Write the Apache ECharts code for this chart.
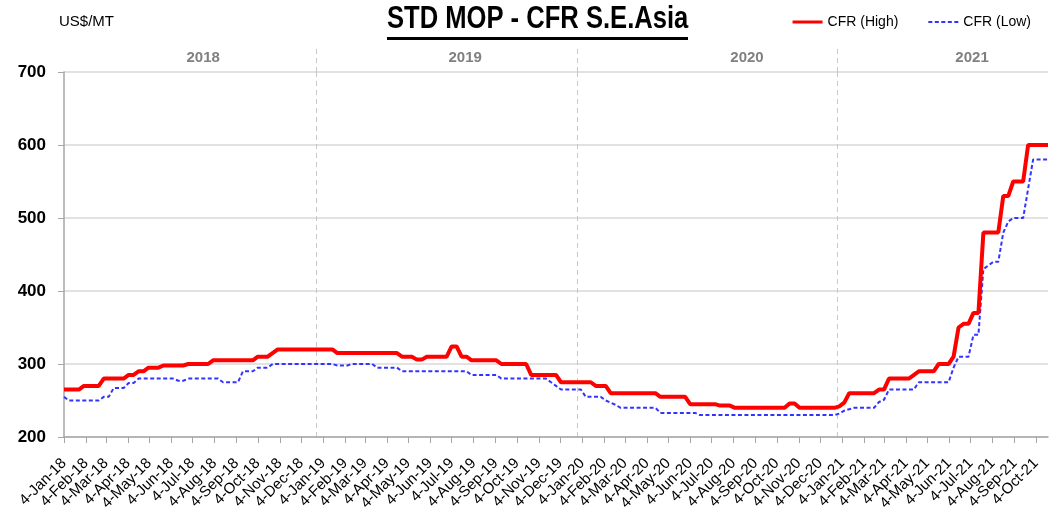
<!DOCTYPE html>
<html>
<head>
<meta charset="utf-8">
<title>STD MOP - CFR S.E.Asia</title>
<script src="https://cdn.jsdelivr.net/npm/echarts@6/dist/echarts.min.js"></script>
<style>
  html, body { margin: 0; padding: 0; background: #fff; }
  #chart { width: 1063px; height: 516px; }
</style>
</head>
<body>
<div id="chart"></div>
<script>
(function () {
  'use strict';

  // weekly corner points (Thursdays), values in US$/MT
  const highDates = [
    '4-Jan-18', '25-Jan-18', '1-Feb-18', '22-Feb-18', '1-Mar-18', '29-Mar-18', '5-Apr-18', '12-Apr-18',
    '19-Apr-18', '26-Apr-18', '3-May-18', '17-May-18', '24-May-18', '21-Jun-18', '28-Jun-18', '26-Jul-18',
    '2-Aug-18', '27-Sep-18', '4-Oct-18', '18-Oct-18', '1-Nov-18', '17-Jan-19', '24-Jan-19', '18-Apr-19',
    '25-Apr-19', '9-May-19', '16-May-19', '23-May-19', '30-May-19', '27-Jun-19', '4-Jul-19', '11-Jul-19',
    '18-Jul-19', '25-Jul-19', '1-Aug-19', '5-Sep-19', '12-Sep-19', '17-Oct-19', '24-Oct-19', '28-Nov-19',
    '5-Dec-19', '16-Jan-20', '23-Jan-20', '6-Feb-20', '13-Feb-20', '16-Apr-20', '23-Apr-20', '28-May-20',
    '4-Jun-20', '9-Jul-20', '16-Jul-20', '30-Jul-20', '6-Aug-20', '15-Oct-20', '22-Oct-20', '29-Oct-20',
    '5-Nov-20', '24-Dec-20', '31-Dec-20', '7-Jan-21', '14-Jan-21', '18-Feb-21', '25-Feb-21', '4-Mar-21',
    '11-Mar-21', '8-Apr-21', '22-Apr-21', '13-May-21', '20-May-21', '3-Jun-21', '10-Jun-21', '17-Jun-21',
    '24-Jun-21', '1-Jul-21', '8-Jul-21', '15-Jul-21', '22-Jul-21', '12-Aug-21', '19-Aug-21', '26-Aug-21',
    '2-Sep-21', '16-Sep-21', '23-Sep-21', '21-Oct-21'
  ];
  const highValues = [
    265, 265, 270, 270, 280, 280, 285, 285,
    290, 290, 295, 295, 298, 298, 300, 300,
    305, 305, 310, 310, 320, 320, 315, 315,
    310, 310, 306, 306, 310, 310, 324, 324,
    310, 310, 305, 305, 300, 300, 285, 285,
    275, 275, 270, 270, 260, 260, 255, 255,
    245, 245, 243, 243, 240, 240, 246, 246,
    240, 240, 242, 247, 260, 260, 265, 265,
    280, 280, 290, 290, 300, 300, 310, 350,
    355, 355, 370, 370, 480, 480, 530, 530,
    550, 550, 600, 600
  ];

  const lowDates = [
    '4-Jan-18', '11-Jan-18', '22-Feb-18', '1-Mar-18', '8-Mar-18', '15-Mar-18', '29-Mar-18', '5-Apr-18',
    '12-Apr-18', '19-Apr-18', '7-Jun-18', '14-Jun-18', '21-Jun-18', '28-Jun-18', '9-Aug-18', '16-Aug-18',
    '6-Sep-18', '13-Sep-18', '27-Sep-18', '4-Oct-18', '18-Oct-18', '25-Oct-18', '17-Jan-19', '24-Jan-19',
    '7-Feb-19', '14-Feb-19', '14-Mar-19', '21-Mar-19', '18-Apr-19', '25-Apr-19', '25-Jul-19', '1-Aug-19',
    '5-Sep-19', '12-Sep-19', '14-Nov-19', '21-Nov-19', '28-Nov-19', '5-Dec-19', '2-Jan-20', '9-Jan-20',
    '30-Jan-20', '6-Feb-20', '13-Feb-20', '20-Feb-20', '27-Feb-20', '16-Apr-20', '23-Apr-20', '11-Jun-20',
    '18-Jun-20', '24-Dec-20', '31-Dec-20', '7-Jan-21', '14-Jan-21', '21-Jan-21', '18-Feb-21', '25-Feb-21',
    '4-Mar-21', '11-Mar-21', '15-Apr-21', '22-Apr-21', '3-Jun-21', '10-Jun-21', '17-Jun-21', '1-Jul-21',
    '8-Jul-21', '15-Jul-21', '22-Jul-21', '29-Jul-21', '5-Aug-21', '12-Aug-21', '19-Aug-21', '26-Aug-21',
    '2-Sep-21', '16-Sep-21', '23-Sep-21', '30-Sep-21', '21-Oct-21'
  ];
  const lowValues = [
    255, 250, 250, 255, 255, 267, 267, 274,
    274, 280, 280, 277, 277, 280, 280, 275,
    275, 290, 290, 295, 295, 300, 300, 298,
    298, 300, 300, 295, 295, 290, 290, 285,
    285, 280, 280, 275, 270, 265, 265, 255,
    255, 250, 247, 244, 240, 240, 233, 233,
    230, 230, 232, 236, 238, 240, 240, 248,
    251, 265, 265, 275, 275, 295, 310, 310,
    340, 340, 430, 435, 440, 440, 480, 495,
    500, 500, 540, 580, 580
  ];

  const yearLabels = ['2018', '2019', '2020', '2021'];
  const yearLabelDates = ['19-Jul-18', '23-Jul-19', '23-Aug-20', '6-Jul-21'];
  const yearSeparators = ['26-Dec-18', '28-Dec-19', '28-Dec-20'];

  const MONTHS = ['Jan', 'Feb', 'Mar', 'Apr', 'May', 'Jun', 'Jul', 'Aug', 'Sep', 'Oct', 'Nov', 'Dec'];
  function fmt(t) {
    const d = new Date(t);
    return d.getUTCDate() + '-' + MONTHS[d.getUTCMonth()] + '-' + String(d.getUTCFullYear()).slice(2);
  }
  // one category per day, like a spreadsheet date axis
  const days = [];
  for (let t = Date.UTC(2018, 0, 4); t <= Date.UTC(2021, 9, 21); t += 86400000) days.push(fmt(t));

  function pairs(dates, values) {
    return dates.map(function (d, i) { return [d, values[i]]; });
  }
  const isMonthTick = function (i, v) { return v.indexOf('4-') === 0; };
  const isSeparator = function (i, v) { return yearSeparators.indexOf(v) >= 0; };
  const isYearLabel = function (i, v) { return yearLabelDates.indexOf(v) >= 0; };

  const FONT = '"Liberation Sans", Arial, sans-serif';
  // legend swatches: solid bar and a dashed bar (tiny corner dots keep the box 30x3)
  const ICON_SOLID = 'rect';
  const ICON_DASHED = 'path://M0,0h0.05v0.05h-0.05z M0,0.6h4v1.8h-4z M6.5,0.6h4v1.8h-4z M13,0.6h4v1.8h-4z M19.5,0.6h4v1.8h-4z M26,0.6h4v1.8h-4z M29.95,2.95h0.05v0.05h-0.05z';

  const chart = echarts.init(document.getElementById('chart'), null, { renderer: 'canvas' });
  chart.setOption({
    animation: false,
    backgroundColor: '#ffffff',
    title: {
      text: 'US$/MT',
      left: 54, top: 9,
      textStyle: { fontFamily: FONT, fontSize: 15, fontWeight: 'normal', color: '#000' }
    },
    graphic: [
      {
        type: 'text', left: 387, top: 4, scaleX: 0.825,
        style: { text: 'STD MOP - CFR S.E.Asia', font: 'bold 31px "Liberation Sans", Arial, sans-serif', fill: '#000' }
      },
      { type: 'rect', left: 387, top: 37, shape: { width: 301, height: 3 }, style: { fill: '#000' } }
    ],
    legend: {
      data: [
        { name: 'CFR (High)', icon: ICON_SOLID },
        { name: 'CFR (Low)', icon: ICON_DASHED }
      ],
      right: 27, top: 10,
      itemWidth: 30, itemHeight: 3, itemGap: 30,
      textStyle: { fontFamily: FONT, fontSize: 14, color: '#000' }
    },
    grid: { left: 64, right: 15, top: 72, bottom: 79, outerBoundsMode: 'none' },
    xAxis: [
      {
        type: 'category',
        data: days,
        boundaryGap: false,
        axisLine: { lineStyle: { color: '#a6a6a6', width: 1.5 } },
        axisTick: { interval: isMonthTick, length: 6, lineStyle: { color: '#a6a6a6', width: 1 } },
        axisLabel: {
          interval: isMonthTick, rotate: 45, margin: 24,
          fontFamily: FONT, fontSize: 15, color: '#000'
        },
        splitLine: { show: false }
      },
      {
        type: 'category',
        data: days,
        boundaryGap: false,
        position: 'top',
        axisLine: { show: false },
        axisTick: {
          interval: isSeparator, length: 27,
          lineStyle: { color: '#c8c8c8', width: 1, type: [5, 4] }
        },
        axisLabel: {
          interval: isYearLabel, margin: 7,
          fontFamily: FONT, fontSize: 15, fontWeight: 'bold', color: '#808080',
          formatter: function (v) { return yearLabels[yearLabelDates.indexOf(v)]; }
        },
        splitLine: {
          show: true, interval: isSeparator,
          lineStyle: { color: '#c8c8c8', width: 1, type: [5, 4] }
        }
      }
    ],
    yAxis: {
      type: 'value',
      min: 200, max: 700, interval: 100,
      axisLine: { show: true, lineStyle: { color: '#a6a6a6', width: 1.5 } },
      axisTick: { show: true, length: 6, lineStyle: { color: '#a6a6a6' } },
      axisLabel: { margin: 18, fontFamily: FONT, fontSize: 17, fontWeight: 'bold', color: '#000' },
      splitLine: { lineStyle: { color: '#d9d9d9', width: 1.5 } }
    },
    series: [
      {
        name: 'CFR (High)',
        type: 'line',
        data: pairs(highDates, highValues),
        symbol: 'none',
        lineStyle: { color: '#ff0000', width: 4 },
        itemStyle: { color: '#ff0000' },
        z: 3
      },
      {
        name: 'CFR (Low)',
        type: 'line',
        data: pairs(lowDates, lowValues),
        symbol: 'none',
        lineStyle: { color: '#3333ff', width: 2, type: [4, 2.5] },
        itemStyle: { color: '#3333ff' },
        z: 2
      }
    ]
  });
  window.addEventListener('resize', function () { chart.resize(); });
})();
</script>
</body>
</html>
